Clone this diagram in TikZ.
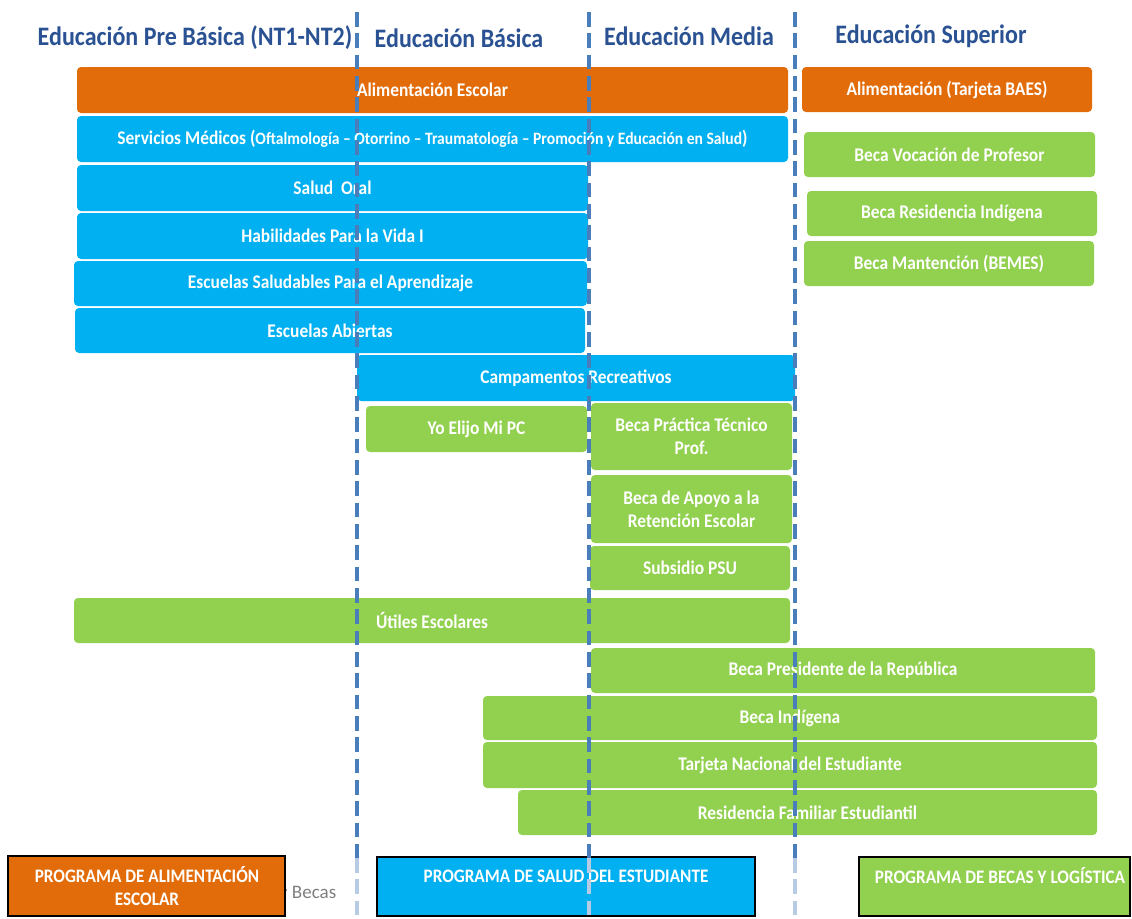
\documentclass[tikz,border=0pt]{standalone}
\usepackage{fontspec}
\setmainfont{Carlito}
\newfontfamily\cf[FakeStretch=0.9]{Carlito}
\definecolor{orC}{HTML}{E36C0A}
\definecolor{blC}{HTML}{00B0F0}
\definecolor{grC}{HTML}{92D050}
\definecolor{hdC}{HTML}{2A5293}
\definecolor{dsC}{HTML}{4A7EBB}
\tikzset{
  boxst/.style={inner sep=0pt, rounded corners=3pt, text=white, align=center,
    font=\cf\bfseries\fontsize{14.5}{17}\selectfont},
  legst/.style={inner sep=0pt, draw=black, line width=1.5pt},
  legtxt/.style={text=white, align=center, font=\cf\bfseries\fontsize{14.3}{17}\selectfont},
  hdr/.style={text=hdC, font=\cf\bfseries\fontsize{20}{24}\selectfont},
  dashline/.style={draw=dsC, line width=3pt, dash pattern=on 11pt off 5pt},
  fadeline/.style={draw=dsC!40, line width=3pt, dash pattern=on 11pt off 5pt}
}
\newcommand\bx[7]{%
  \pgfmathsetmacro\cx{(#2+#4)/2}\pgfmathsetmacro\cy{(#3+#5)/2}%
  \pgfmathsetmacro\ww{(#4-#2)*0.75}\pgfmathsetmacro\hh{(#5-#3)*0.75}%
  \node[boxst, fill=#6, minimum width=\ww pt, minimum height=\hh pt] (#1) at (\cx,\cy) {#7};}
\newcommand\legbox[7]{%
  \pgfmathsetmacro\cx{(#2+#4)/2}\pgfmathsetmacro\cy{(#3+#5)/2}%
  \pgfmathsetmacro\ww{(#4-#2)*0.75}\pgfmathsetmacro\hh{(#5-#3)*0.75}%
  \node[legst, fill=#6, minimum width=\ww pt, minimum height=\hh pt] (#1) at (\cx,\cy) {#7};}
\begin{document}
\begin{tikzpicture}[x=0.75pt, y=-0.75pt]
\useasboundingbox (0,0) rectangle (1132,918);
% headers
\node[hdr] (h1) at (195,38) {Educación Pre Básica (NT1-NT2)};
\node[hdr] (h2) at (459,38) {Educación Básica};
\node[hdr] (h3) at (689,36) {Educación Media};
\node[hdr] (h4) at (931,36) {Educación Superior};
% boxes
\bx{ae}{77}{67}{788}{113}{orC}{Alimentación Escolar}
\bx{ab}{802}{67}{1092}{112}{orC}{Alimentación (Tarjeta BAES)}
\bx{sm}{77}{116}{788}{162}{blC}{Servicios Médicos ({\fontsize{13}{15}\selectfont Oftalmología – Otorrino – Traumatología – Promoción y Educación en Salud})}
\bx{bv}{804}{132}{1095}{177}{grC}{Beca Vocación de Profesor}
\bx{br}{807}{191}{1097}{236}{grC}{Beca Residencia Indígena}
\bx{bm}{804}{241}{1094}{286}{grC}{Beca Mantención (BEMES)}
\bx{so}{77}{165}{588}{211}{blC}{Salud\ \ Oral}
\bx{hv}{77}{213}{588}{259}{blC}{Habilidades Para la Vida I}
\bx{es}{74}{261}{587}{306}{blC}{Escuelas Saludables Para el Aprendizaje}
\bx{ea}{75}{308}{585}{353}{blC}{Escuelas Abiertas}
\bx{cr}{357}{355}{795}{401}{blC}{Campamentos Recreativos}
\bx{ye}{366}{406}{587}{452}{grC}{Yo Elijo Mi PC}
\bx{bp}{591}{403}{792}{470}{grC}{Beca Práctica Técnico\\Prof.}
\bx{ba}{591}{475}{792}{543}{grC}{Beca de Apoyo a la\\Retención Escolar}
\bx{sp}{590}{546}{790}{590}{grC}{Subsidio PSU}
\bx{ue}{74}{598}{790}{643}{grC}{Útiles Escolares}
\bx{bpr}{591}{648}{1095}{693}{grC}{Beca Presidente de la República}
\bx{bi}{483}{696}{1097}{740}{grC}{Beca Indígena}
\bx{tn}{483}{742}{1097}{788}{grC}{Tarjeta Nacional del Estudiante}
\bx{rf}{518}{790}{1097}{835}{grC}{Residencia Familiar Estudiantil}
% legend
\node[anchor=east, text=gray, font=\fontsize{14.3}{16}\selectfont] (yb) at (341,894) {y Becas};
\legbox{l1}{8}{856}{285}{916}{orC}{}
\node[legtxt] (l1t) at (147,886) {PROGRAMA DE ALIMENTACIÓN\\ESCOLAR};
\legbox{l2}{377}{857}{755}{916}{blC}{}
\node[legtxt] (l2t) at (566,876) {PROGRAMA DE SALUD DEL ESTUDIANTE};
\legbox{l3}{859}{857}{1130}{916}{grC}{}
\node[legtxt] (l3t) at (1000,876) {PROGRAMA DE BECAS Y LOGÍSTICA};
% dashed lines
\foreach \n/\xx in {a/357,b/589,c/795}{
  \coordinate (\n t) at (\xx,12);
  \coordinate (\n m) at (\xx,858);
  \coordinate (\n b) at (\xx,918);
  \draw[dashline] (\n t) -- (\n m);
  \draw[fadeline] (\n m) -- (\n b);
}
\end{tikzpicture}
\end{document}
